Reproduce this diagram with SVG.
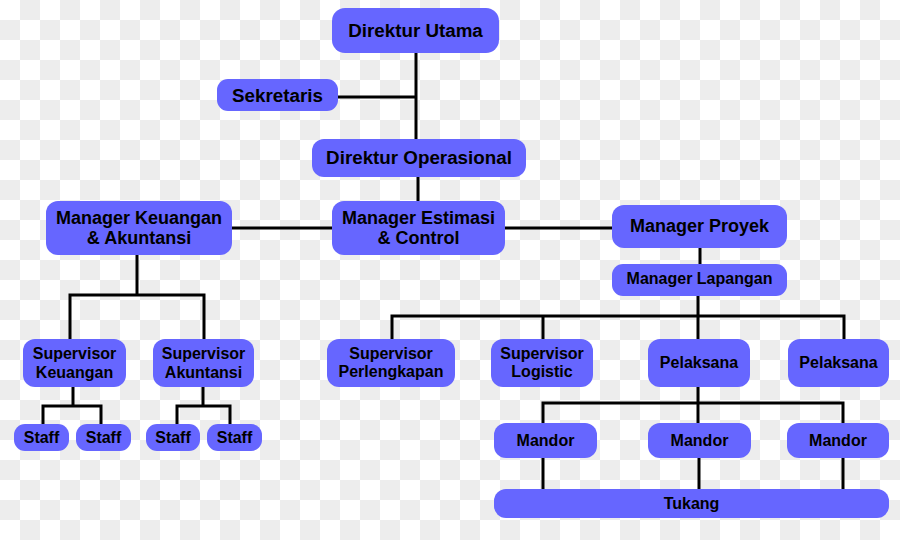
<svg xmlns="http://www.w3.org/2000/svg" width="900" height="540" viewBox="0 0 900 540">
  <defs>
    <pattern id="checker" x="0" y="0" width="40" height="40" patternUnits="userSpaceOnUse">
      <rect x="0" y="0" width="40" height="40" fill="#ffffff"/>
      <rect x="20" y="0" width="20" height="20" fill="#ededed"/>
      <rect x="0" y="20" width="20" height="20" fill="#ededed"/>
    </pattern>
  </defs>
  <style>
    .box { fill: #6666ff; }
    .t { font-family: "Liberation Sans", Arial, sans-serif; font-weight: bold; fill: #000; text-anchor: middle; font-size: 16px; }
    .t18 { font-size: 18px; }
    .t19 { font-size: 18.8px; }
    .conn { fill: none; stroke: #000; stroke-width: 3; }
  </style>
  <rect x="0" y="0" width="900" height="540" fill="url(#checker)"/>

  <g id="connectors" class="conn">
    <path d="M416 53 V139"/>
    <path d="M338 97 H416"/>
    <path d="M418 177 V201"/>
    <path d="M232 228 H332"/>
    <path d="M505 228 H612"/>
    <path d="M700 248 V264"/>
    <path d="M137 255 V295"/>
    <path d="M70 339 V295 H204 V339"/>
    <path d="M73 387 V406"/>
    <path d="M43 424 V406 H101 V424"/>
    <path d="M203 387 V406"/>
    <path d="M177 424 V406 H230 V424"/>
    <path d="M698 296 V339"/>
    <path d="M392 339 V316 H844 V339"/>
    <path d="M543 316 V339"/>
    <path d="M698 387 V423"/>
    <path d="M543 423 V403 H843 V423"/>
    <path d="M543 458 V489"/>
    <path d="M699 458 V489"/>
    <path d="M843 458 V489"/>
  </g>

  <g id="direktur-utama">
    <rect class="box" x="332" y="8" width="167" height="45" rx="13"/>
    <text class="t t19" x="415.5" y="37">Direktur Utama</text>
  </g>
  <g id="sekretaris">
    <rect class="box" x="217" y="79" width="121" height="32" rx="11"/>
    <text class="t t19" x="277.5" y="102">Sekretaris</text>
  </g>
  <g id="direktur-operasional">
    <rect class="box" x="312" y="139" width="214" height="38" rx="12"/>
    <text class="t t19" x="419" y="164">Direktur Operasional</text>
  </g>
  <g id="manager-keuangan">
    <rect class="box" x="46" y="201" width="186" height="54" rx="12"/>
    <text class="t t18" x="139" y="224">Manager Keuangan</text>
    <text class="t t18" x="139" y="244">&amp; Akuntansi</text>
  </g>
  <g id="manager-estimasi">
    <rect class="box" x="332" y="201" width="173" height="54" rx="12"/>
    <text class="t t18" x="418.5" y="224">Manager Estimasi</text>
    <text class="t t18" x="418.5" y="244">&amp; Control</text>
  </g>
  <g id="manager-proyek">
    <rect class="box" x="612" y="205" width="175" height="43" rx="12"/>
    <text class="t t18" x="699.5" y="232">Manager Proyek</text>
  </g>
  <g id="manager-lapangan">
    <rect class="box" x="612" y="264" width="175" height="32" rx="11"/>
    <text class="t" x="699.5" y="284">Manager Lapangan</text>
  </g>
  <g id="supervisor-keuangan">
    <rect class="box" x="23" y="339" width="103" height="48" rx="12"/>
    <text class="t" x="74.5" y="359">Supervisor</text>
    <text class="t" x="74.5" y="378">Keuangan</text>
  </g>
  <g id="supervisor-akuntansi">
    <rect class="box" x="153" y="339" width="101" height="48" rx="12"/>
    <text class="t" x="203.5" y="359">Supervisor</text>
    <text class="t" x="203.5" y="378">Akuntansi</text>
  </g>
  <g id="staff-1">
    <rect class="box" x="14" y="424" width="55" height="27" rx="11"/>
    <text class="t" x="41.5" y="443">Staff</text>
  </g>
  <g id="staff-2">
    <rect class="box" x="76" y="424" width="55" height="27" rx="11"/>
    <text class="t" x="103.5" y="443">Staff</text>
  </g>
  <g id="staff-3">
    <rect class="box" x="146" y="424" width="54" height="27" rx="11"/>
    <text class="t" x="173" y="443">Staff</text>
  </g>
  <g id="staff-4">
    <rect class="box" x="207" y="424" width="55" height="27" rx="11"/>
    <text class="t" x="234.5" y="443">Staff</text>
  </g>
  <g id="supervisor-perlengkapan">
    <rect class="box" x="327" y="339" width="128" height="48" rx="12"/>
    <text class="t" x="391" y="359">Supervisor</text>
    <text class="t" x="391" y="377">Perlengkapan</text>
  </g>
  <g id="supervisor-logistic">
    <rect class="box" x="491" y="339" width="102" height="48" rx="12"/>
    <text class="t" x="542" y="359">Supervisor</text>
    <text class="t" x="542" y="377">Logistic</text>
  </g>
  <g id="pelaksana-1">
    <rect class="box" x="648" y="339" width="102" height="48" rx="12"/>
    <text class="t" x="699" y="368">Pelaksana</text>
  </g>
  <g id="pelaksana-2">
    <rect class="box" x="788" y="339" width="101" height="48" rx="12"/>
    <text class="t" x="838.5" y="368">Pelaksana</text>
  </g>
  <g id="mandor-1">
    <rect class="box" x="494" y="423" width="103" height="35" rx="12"/>
    <text class="t" x="545.5" y="446">Mandor</text>
  </g>
  <g id="mandor-2">
    <rect class="box" x="648" y="423" width="103" height="35" rx="12"/>
    <text class="t" x="699.5" y="446">Mandor</text>
  </g>
  <g id="mandor-3">
    <rect class="box" x="787" y="423" width="102" height="35" rx="12"/>
    <text class="t" x="838" y="446">Mandor</text>
  </g>
  <g id="tukang">
    <rect class="box" x="494" y="489" width="395" height="29" rx="12"/>
    <text class="t" x="691.5" y="509">Tukang</text>
  </g>
</svg>
